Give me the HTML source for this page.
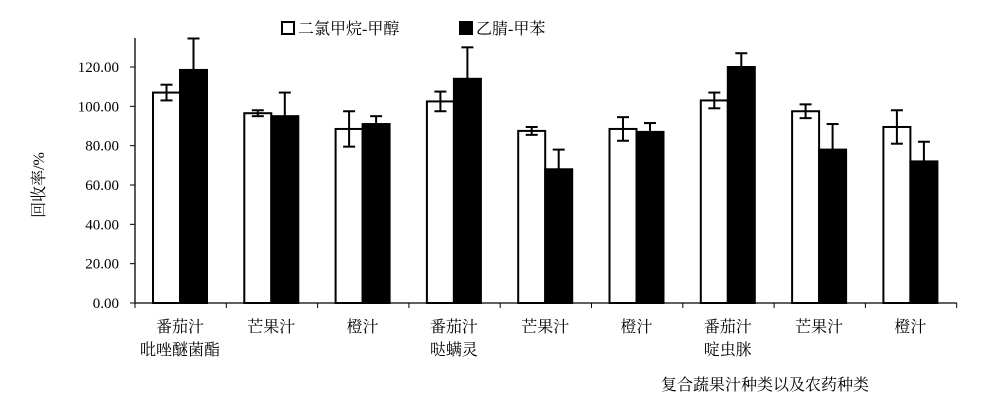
<!DOCTYPE html>
<html><head><meta charset="utf-8"><style>
body{margin:0;background:#fff;}
svg text{font-family:"Liberation Serif","Noto Serif CJK SC",serif;}
</style></head><body>
<svg id="chart" width="1000" height="411" xmlns="http://www.w3.org/2000/svg">
<g id="axes"></g><g id="bars"></g>
<g>
<rect x="282" y="22" width="12" height="12" fill="#fff" stroke="#000" stroke-width="2"/>
<text x="298" y="34" font-size="16">二氯甲烷-甲醇</text>
<rect x="460" y="22" width="12" height="12" fill="#000" stroke="#000" stroke-width="2"/>
<text x="476" y="34" font-size="16">乙腈-甲苯</text>
</g>
<text x="44" y="185" font-size="16" transform="rotate(-90 44 185)" text-anchor="middle">回收率/%</text>
<text x="765" y="390" font-size="16" text-anchor="middle">复合蔬果汁种类以及农药种类</text>
</svg>
<script>
const categories=[["番茄汁","吡唑醚菌酯"],["芒果汁"],["橙汁"],["番茄汁","哒螨灵"],["芒果汁"],["橙汁"],["番茄汁","啶虫脒"],["芒果汁"],["橙汁"]];
const dcmValues=[107,96.5,88.5,102.5,87.5,88.5,103,97.5,89.5];
const dcmErrors=[4,1.5,9,5,2,6,4,3.5,8.5];
const acnValues=[118.5,95,91,114,68,87,120,78,72];
const acnErrors=[16,12,4,16,10,4.5,7,13,10];
const yTicks=[0,20,40,60,80,100,120];
const yTickLabels=["0.00","20.00","40.00","60.00","80.00","100.00","120.00"];
const NS="http://www.w3.org/2000/svg";
const x0=135,y0=303,pxPer=(303-67)/120,groupW=91.3,barW=27;
const yS=v=>y0-v*pxPer;
const gc=i=>x0+45+i*groupW;
function mk(t,a,p){const e=document.createElementNS(NS,t);for(const k in a)e.setAttribute(k,a[k]);p.appendChild(e);return e;}
const ax=document.getElementById('axes'),bs=document.getElementById('bars');
let l=mk('line',{x1:x0,y1:38,x2:x0,y2:y0,stroke:'#000','stroke-width':1.3},ax);

l=mk('line',{x1:x0,y1:y0,x2:x0+9*groupW,y2:y0,stroke:'#000','stroke-width':1.3},ax);

yTicks.forEach((v,i)=>{
 const t=mk('line',{x1:x0-5,y1:yS(v),x2:x0,y2:yS(v),stroke:'#000'},ax);
 
 const tx=mk('text',{x:x0-16,y:yS(v)+5,'font-size':15,'text-anchor':'end'},ax);
 tx.textContent=yTickLabels[i];
 
});
for(let i=0;i<=9;i++){const t=mk('line',{x1:x0+i*groupW,y1:y0,x2:x0+i*groupW,y2:y0+5,stroke:'#000'},ax);
 }
categories.forEach((c,i)=>{c.forEach((s,j)=>{
 const tx=mk('text',{x:gc(i),y:332+j*23,'font-size':16,'text-anchor':'middle'},ax);tx.textContent=s;
 });});
function err(cx,v,e,col){
 const g=mk('g',{stroke:col,'stroke-width':2},bs);
 
 mk('line',{x1:cx,y1:yS(v-e),x2:cx,y2:yS(v+e)},g);
 mk('line',{x1:cx-6,y1:yS(v+e),x2:cx+6,y2:yS(v+e)},g);
 mk('line',{x1:cx-6,y1:yS(v-e),x2:cx+6,y2:yS(v-e)},g);
}
dcmValues.forEach((v,i)=>{
 const x=gc(i)-barW;
 const r=mk('rect',{x:x,y:yS(v),width:barW,height:y0-yS(v),fill:'#fff',stroke:'#000','stroke-width':2},bs);
 
 err(x+barW/2,v,dcmErrors[i],'#000');
});
acnValues.forEach((v,i)=>{
 const x=gc(i);
 const r=mk('rect',{x:x,y:yS(v),width:barW,height:y0-yS(v),fill:'#000',stroke:'#000','stroke-width':2},bs);
 
 err(x+barW/2,v,acnErrors[i],'#000');
});
</script>
</body></html>
